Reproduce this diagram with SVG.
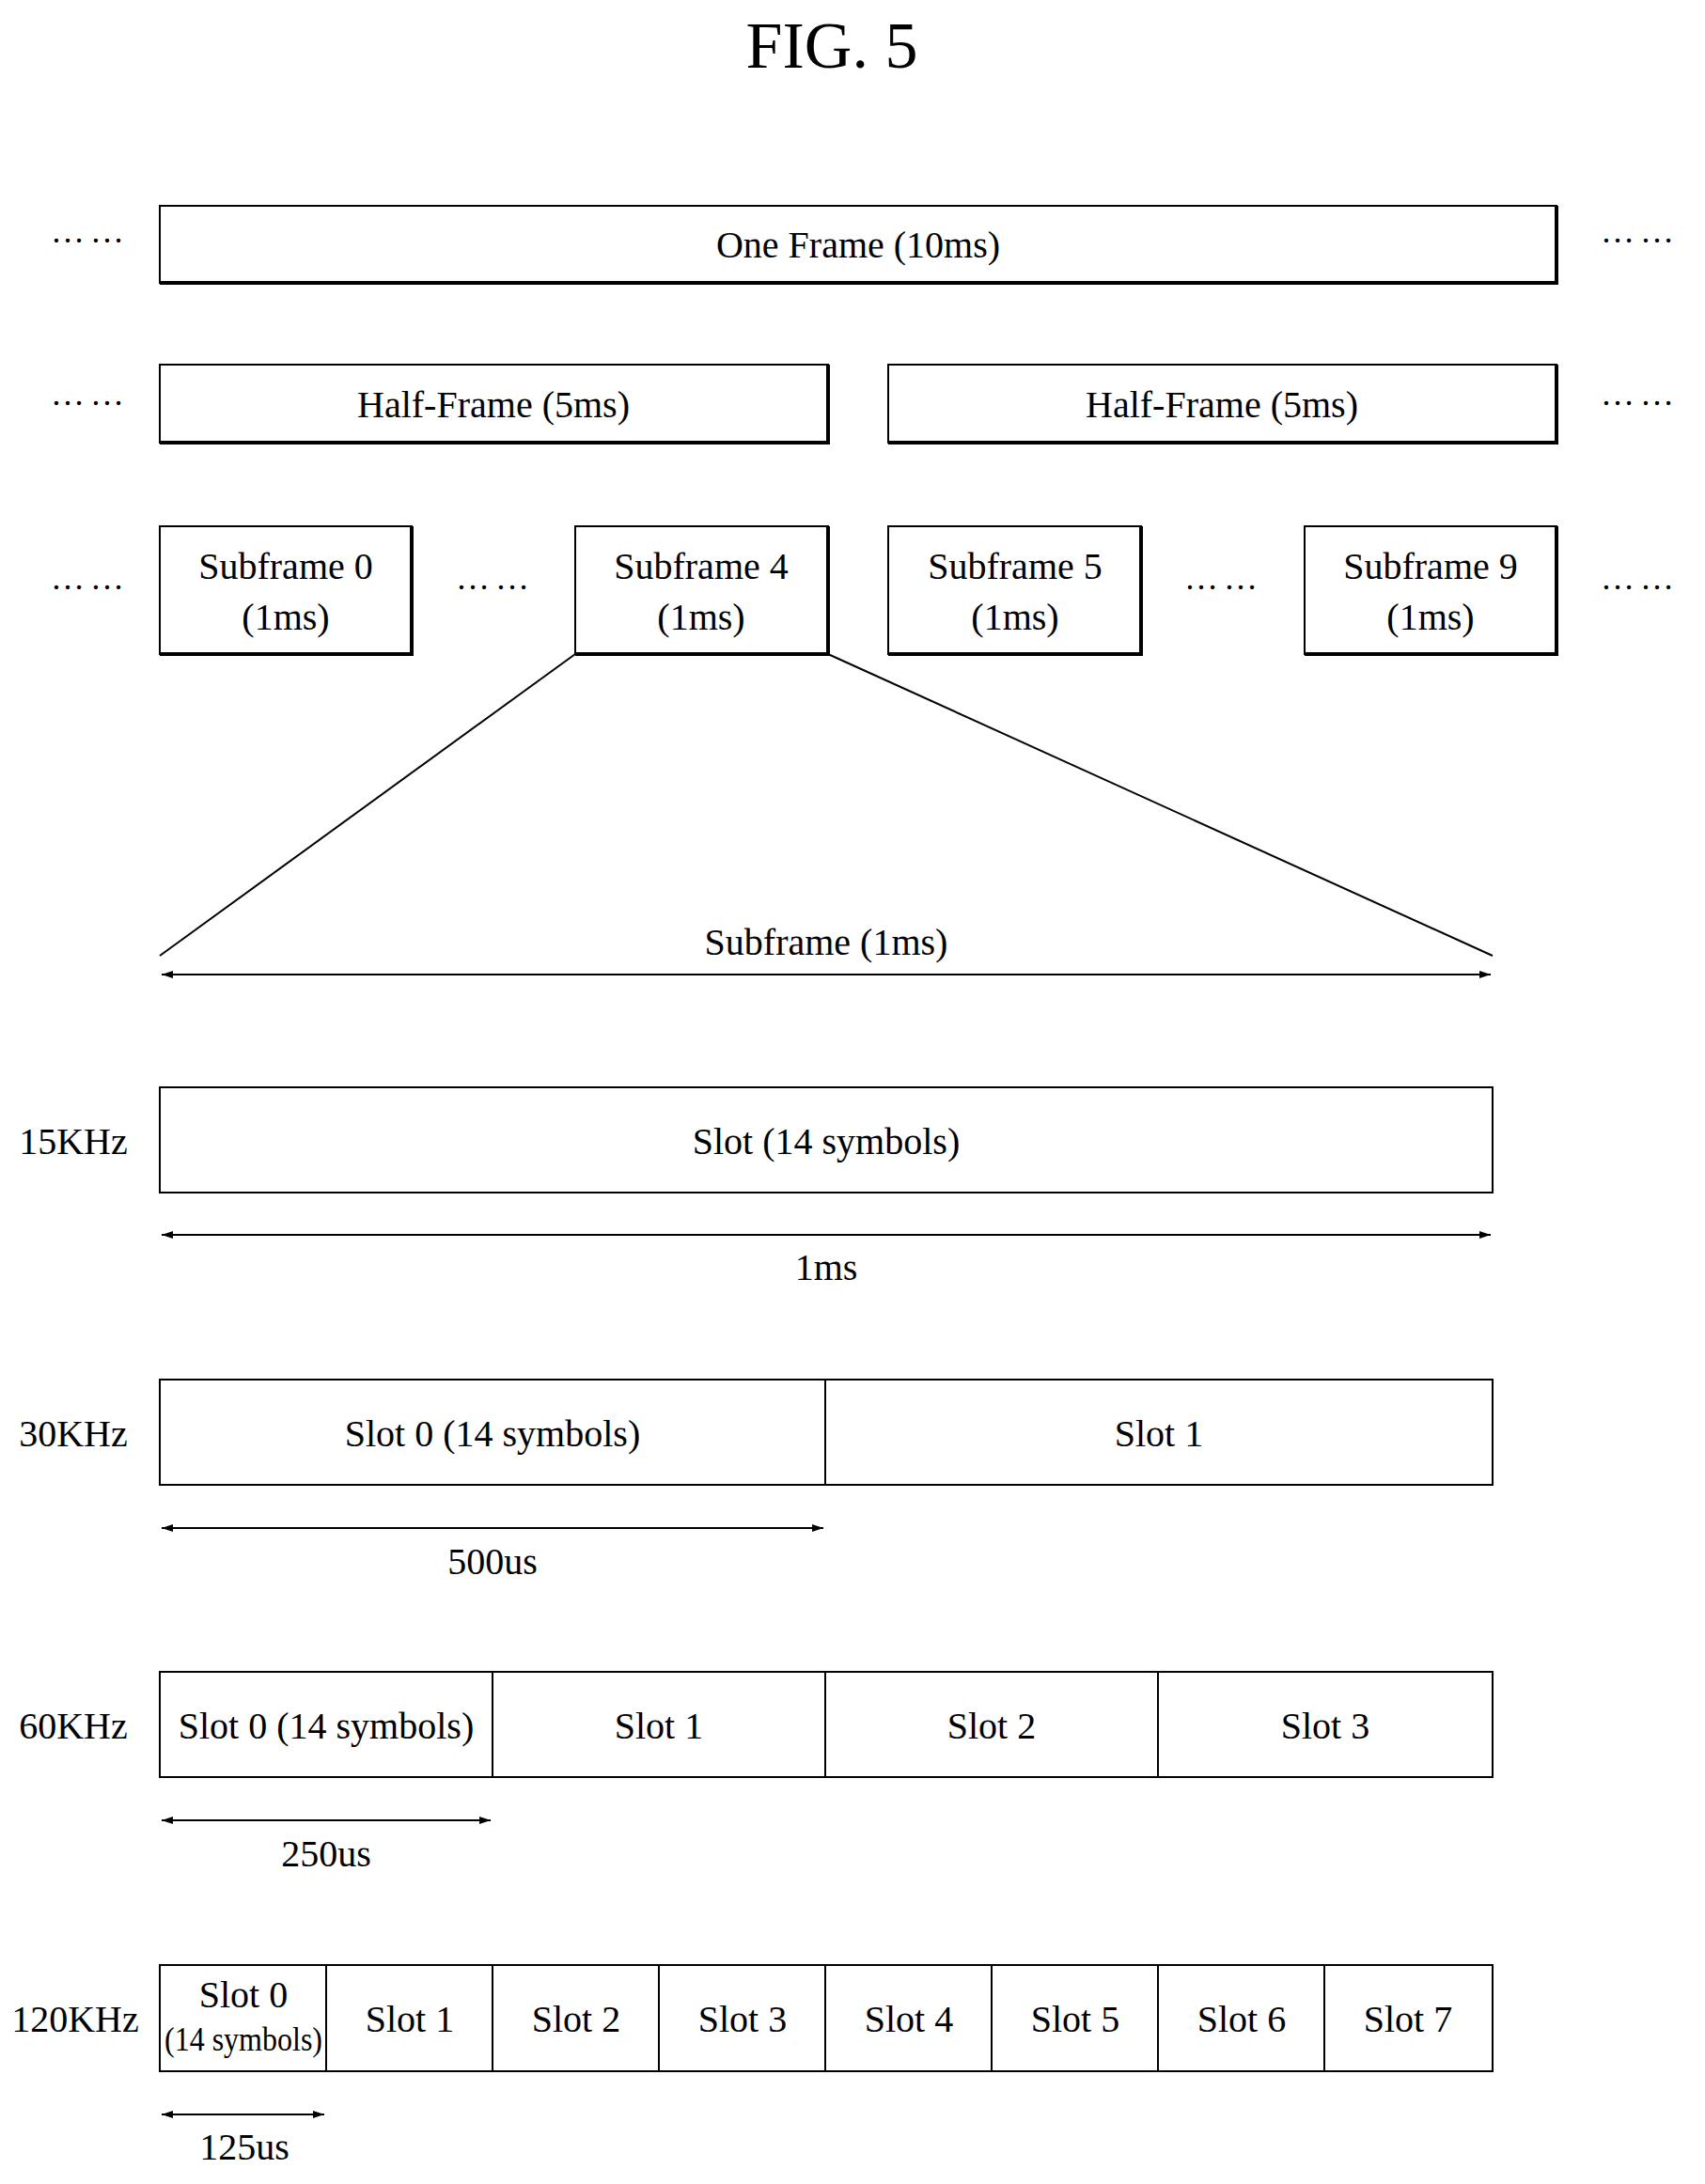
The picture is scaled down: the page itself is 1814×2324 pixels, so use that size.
<svg xmlns="http://www.w3.org/2000/svg" width="1814" height="2324" viewBox="0 0 1814 2324">
<style>
text{font-family:"Liberation Serif",serif;font-size:40px;text-anchor:middle;fill:#000}
.b{fill:#fff;stroke:#000;stroke-width:2}
.sh{fill:none;stroke:#000;stroke-width:4}
.l{stroke:#000;stroke-width:2;fill:none}
.d{font-size:36px;letter-spacing:6px}
</style>
<defs>
<marker id="a" viewBox="0 0 12 8" refX="12" refY="4" markerWidth="12" markerHeight="8" markerUnits="userSpaceOnUse" orient="auto-start-reverse"><path d="M0,0L12,4L0,8z"/></marker>
</defs>
<rect width="1814" height="2324" fill="#fff"/>
<text x="885" y="72" style="font-size:70px">FIG. 5</text>
<g id="dots">
<text class="d" x="96" y="258">……</text><text class="d" x="1745" y="258">……</text>
<text class="d" x="96" y="431">……</text><text class="d" x="1745" y="431">……</text>
<text class="d" x="96" y="627">……</text><text class="d" x="527" y="627">……</text><text class="d" x="1302" y="627">……</text><text class="d" x="1745" y="627">……</text>
</g>
<g id="frame"><rect class="b" x="170" y="219" width="1486" height="82"/><polyline class="sh" points="170,301 1656,301 1656,219"/><text x="913" y="274">One Frame (10ms)</text></g>
<g id="half1"><rect class="b" x="170" y="388" width="711" height="83"/><polyline class="sh" points="170,471 881,471 881,388"/><text x="525" y="444">Half-Frame (5ms)</text></g>
<g id="half2"><rect class="b" x="945" y="388" width="711" height="83"/><polyline class="sh" points="945,471 1656,471 1656,388"/><text x="1300" y="444">Half-Frame (5ms)</text></g>
<g id="sf0"><rect class="b" x="170" y="560" width="268" height="136"/><polyline class="sh" points="170,696 438,696 438,560"/><text x="304" y="616">Subframe 0</text><text x="304" y="670">(1ms)</text></g>
<g id="sf4"><rect class="b" x="612" y="560" width="269" height="136"/><polyline class="sh" points="612,696 881,696 881,560"/><text x="746" y="616">Subframe 4</text><text x="746" y="670">(1ms)</text></g>
<g id="sf5"><rect class="b" x="945" y="560" width="269" height="136"/><polyline class="sh" points="945,696 1214,696 1214,560"/><text x="1080" y="616">Subframe 5</text><text x="1080" y="670">(1ms)</text></g>
<g id="sf9"><rect class="b" x="1388" y="560" width="268" height="136"/><polyline class="sh" points="1388,696 1656,696 1656,560"/><text x="1522" y="616">Subframe 9</text><text x="1522" y="670">(1ms)</text></g>
<g id="connectors">
<line class="l" x1="612" y1="696" x2="170" y2="1017"/>
<line class="l" x1="881" y1="696" x2="1588" y2="1017"/>
<line class="l" x1="172" y1="1037" x2="1586" y2="1037" marker-start="url(#a)" marker-end="url(#a)"/>
<line class="l" x1="172" y1="1314" x2="1586" y2="1314" marker-start="url(#a)" marker-end="url(#a)"/>
<line class="l" x1="172" y1="1626" x2="876" y2="1626" marker-start="url(#a)" marker-end="url(#a)"/>
<line class="l" x1="172" y1="1937" x2="522" y2="1937" marker-start="url(#a)" marker-end="url(#a)"/>
<line class="l" x1="172" y1="2250" x2="345" y2="2250" marker-start="url(#a)" marker-end="url(#a)"/>
</g>
<text x="879" y="1016">Subframe (1ms)</text>
<text x="879" y="1362">1ms</text>
<text x="524" y="1675">500us</text>
<text x="347" y="1986">250us</text>
<text x="260" y="2298">125us</text>
<g id="r15"><text x="78" y="1228">15KHz</text><rect class="b" x="170" y="1157" width="1418" height="112"/><text x="879" y="1228">Slot (14 symbols)</text></g>
<g id="r30"><text x="78" y="1539">30KHz</text><rect class="b" x="170" y="1468" width="1418" height="112"/><line class="l" x1="878" y1="1468" x2="878" y2="1580"/><text x="524" y="1539">Slot 0 (14 symbols)</text><text x="1233" y="1539">Slot 1</text></g>
<g id="r60"><text x="78" y="1850">60KHz</text><rect class="b" x="170" y="1779" width="1418" height="112"/><line class="l" x1="524" y1="1779" x2="524" y2="1891"/><line class="l" x1="878" y1="1779" x2="878" y2="1891"/><line class="l" x1="1232" y1="1779" x2="1232" y2="1891"/><text x="347" y="1850">Slot 0 (14 symbols)</text><text x="701" y="1850">Slot 1</text><text x="1055" y="1850">Slot 2</text><text x="1410" y="1850">Slot 3</text></g>
<g id="r120"><text x="80" y="2162">120KHz</text><rect class="b" x="170" y="2091" width="1418" height="113"/>
<path class="l" d="M347,2091V2204M524,2091V2204M701,2091V2204M878,2091V2204M1055,2091V2204M1232,2091V2204M1409,2091V2204"/>
<text x="259" y="2136">Slot 0</text><text x="259" y="2182" style="font-size:36px" textLength="168" lengthAdjust="spacingAndGlyphs">(14 symbols)</text>
<text x="436" y="2162">Slot 1</text><text x="613" y="2162">Slot 2</text><text x="790" y="2162">Slot 3</text><text x="967" y="2162">Slot 4</text><text x="1144" y="2162">Slot 5</text><text x="1321" y="2162">Slot 6</text><text x="1498" y="2162">Slot 7</text></g>
</svg>
